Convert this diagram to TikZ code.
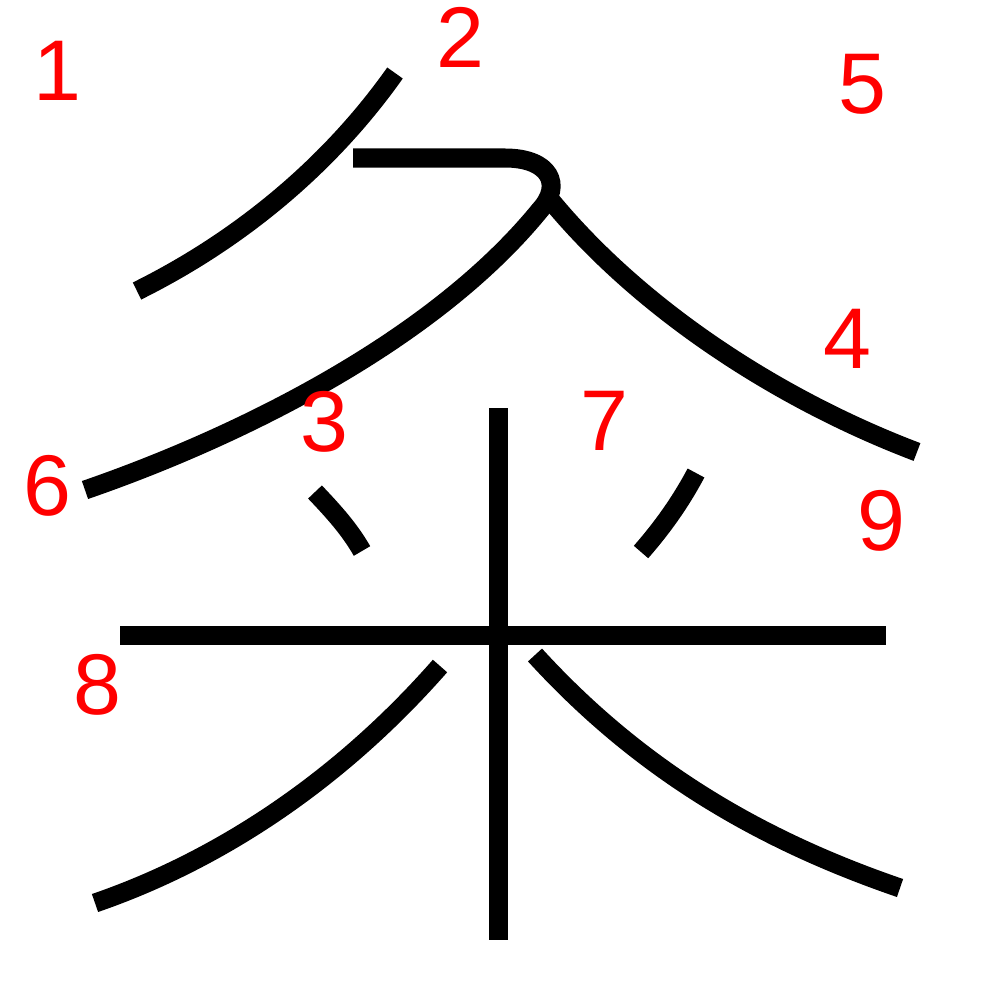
\documentclass[tikz,border=0pt]{standalone}
\usepackage{fontspec}
\setmainfont{Liberation Sans}
\begin{document}
\begin{tikzpicture}[x=0.01cm,y=-0.01cm,
  strokeline/.style={line width=0.19cm,black,line cap=butt},
  num/.style={text=red,font=\fontsize{24.5}{26}\selectfont,inner sep=0pt}]
\useasboundingbox (0,0) rectangle (1000,1000);
\fill[white] (0,0) rectangle (1000,1000);
% strokes
\draw[strokeline] (395,73) .. controls (330,165) and (240,240) .. (137,291);
\draw[strokeline] (353,158) -- (505,158) .. controls (550,158) and (563,185) .. (540,210)
   .. controls (430,345) and (230,440) .. (85,490);
\draw[strokeline] (548,197) .. controls (640,310) and (780,400) .. (917,452);
\draw[strokeline] (315,492) .. controls (335,513) and (350,530) .. (362,551);
\draw[strokeline] (696,473) .. controls (680,503) and (662,528) .. (641,552);
\draw[strokeline] (120,635) -- (886,635);
\draw[strokeline] (498,408) -- (498,940);
\draw[strokeline] (440,666) .. controls (340,780) and (220,860) .. (95,903);
\draw[strokeline] (535,655) .. controls (640,770) and (760,840) .. (900,888);
% labels
\node[num] (n1) at (57,71) {1};
\node[num] (n2) at (460,37) {2};
\node[num] (n3) at (324,422) {3};
\node[num] (n4) at (847,339) {4};
\node[num] (n5) at (862,84) {5};
\node[num] (n6) at (47,486) {6};
\node[num] (n7) at (604,421) {7};
\node[num] (n8) at (97,685) {8};
\node[num] (n9) at (881,521) {9};
\end{tikzpicture}
\end{document}
